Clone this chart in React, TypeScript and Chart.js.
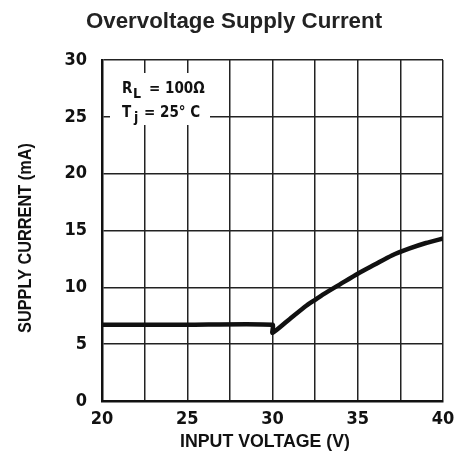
import React, { useEffect, useRef } from "react";
import { Chart, registerables } from "chart.js";

Chart.register(...registerables);

const voltage = [20, 25, 30, 30, 31, 32, 32.5, 33, 34, 35, 36, 37, 38, 39, 40];
const current = [6.7, 6.7, 6.7, 6.0, 7.2, 8.4, 8.9, 9.4, 10.3, 11.2, 12.0, 12.8, 13.4, 13.9, 14.3];
const xTicksShown = [20, 25, 30, 35, 40];
const yTicks = [0, 5, 10, 15, 20, 25, 30];

const chartTitle = "Overvoltage Supply Current";
const xTitle = "INPUT VOLTAGE (V)";
const yTitle = "SUPPLY CURRENT (mA)";

const COND = "'Liberation Sans Narrow', 'DejaVu Sans Condensed', 'Roboto Condensed', Roboto, sans-serif";
const ARIAL = "'Liberation Sans', Arial, sans-serif";

function drawFitted(ctx: any, text: string, cx: number, baseY: number, size: number, width: number) {
  ctx.save();
  ctx.font = `bold ${size}px ${ARIAL}`;
  const w = ctx.measureText(text).width;
  const k = width / w;
  ctx.translate(cx, baseY);
  ctx.scale(k, 1);
  ctx.textAlign = "center";
  ctx.textBaseline = "alphabetic";
  ctx.fillText(text, 0, 0);
  ctx.restore();
}

const textPlugin = {
  id: "texts",
  afterDraw(chart: any) {
    const { ctx, chartArea } = chart;
    const l = chartArea.left;
    const t = chartArea.top;
    ctx.save();
    // main title
    ctx.fillStyle = "#222";
    ctx.font = `bold 22.3px ${ARIAL}`;
    ctx.textAlign = "center";
    ctx.textBaseline = "alphabetic";
    ctx.fillText(chartTitle, 226, 20);
    // axis titles
    ctx.fillStyle = "#111";
    drawFitted(ctx, xTitle, 257, 439, 18, 170);
    ctx.save();
    ctx.translate(23, 230);
    ctx.rotate(-Math.PI / 2);
    drawFitted(ctx, yTitle, 0, 0, 17.5, 190);
    ctx.restore();
    // note box
    ctx.fillStyle = "#fff";
    ctx.fillRect(l + 8, t + 13, 100, 52);
    ctx.fillStyle = "#111";
    ctx.textAlign = "left";
    ctx.font = `bold 15px ${COND}`;
    ctx.fillText("R", l + 20, t + 33);
    ctx.font = `bold 14px ${COND}`;
    ctx.fillText("L", l + 31, t + 38);
    ctx.font = `bold 15px ${COND}`;
    ctx.fillText("= 100\u03a9", l + 47, t + 33);
    ctx.fillText("T", l + 20, t + 57);
    ctx.font = `bold 14px ${COND}`;
    ctx.fillText("j", l + 32, t + 62);
    ctx.font = `bold 15px ${COND}`;
    ctx.fillText("= 25\u00b0 C", l + 42, t + 57);
    ctx.restore();
  },
};

export default function App() {
  const ref = useRef<HTMLCanvasElement>(null);
  useEffect(() => {
    const prevMargin = document.body.style.margin;
    document.body.style.margin = "0";
    const chart = new Chart(ref.current!, {
      type: "line",
      data: {
        datasets: [
          {
            data: voltage.map((v, i) => ({ x: v, y: current[i] })),
            borderColor: "#111",
            borderWidth: 4.5,
            pointRadius: 0,
            tension: 0.2,
            fill: false,
          },
        ],
      },
      options: {
        animation: false,
        responsive: false,
        layout: { padding: { left: 0, right: 13, top: 52, bottom: 0 } },
        plugins: {
          legend: { display: false },
          tooltip: { enabled: false },
          title: { display: false },
        },
        scales: {
          x: {
            type: "linear",
            min: 20,
            max: 40,
            afterFit: (s: any) => {
              s.height = 63;
              s.paddingRight = 0;
              s.paddingLeft = 0;
            },
            afterBuildTicks: (s: any) => {
              const arr = [];
              for (let v = 20; v <= 40; v += 2.5) arr.push({ value: v });
              s.ticks = arr;
            },
            ticks: {
              color: "#111",
              font: { family: COND, size: 18, weight: "bold" },
              padding: 8,
              maxRotation: 0,
              autoSkip: false,
              callback: (v: any) => (xTicksShown.includes(Number(v)) ? String(v) : ""),
            },
            grid: { color: "#222", lineWidth: 1.5, drawTicks: false },
            border: { color: "#111", width: 2.5 },
          },
          y: {
            type: "linear",
            min: 0,
            max: 30,
            afterFit: (s: any) => {
              s.width = 94;
              s.paddingTop = 0;
              s.paddingBottom = 0;
            },
            afterBuildTicks: (s: any) => {
              s.ticks = yTicks.map((v) => ({ value: v }));
            },
            ticks: {
              color: "#111",
              font: { family: COND, size: 18, weight: "bold" },
              padding: 15,
            },
            grid: { color: "#222", lineWidth: 1.5, drawTicks: false },
            border: { color: "#111", width: 2.5 },
          },
        },
      },
      plugins: [textPlugin],
    });
    return () => {
      chart.destroy();
      document.body.style.margin = prevMargin;
    };
  }, []);
  return (
    <div style={{ width: 456, height: 472, padding: 8, boxSizing: "border-box" }}>
      <canvas ref={ref} width={448} height={456} style={{ display: "block" }} />
    </div>
  );
}
